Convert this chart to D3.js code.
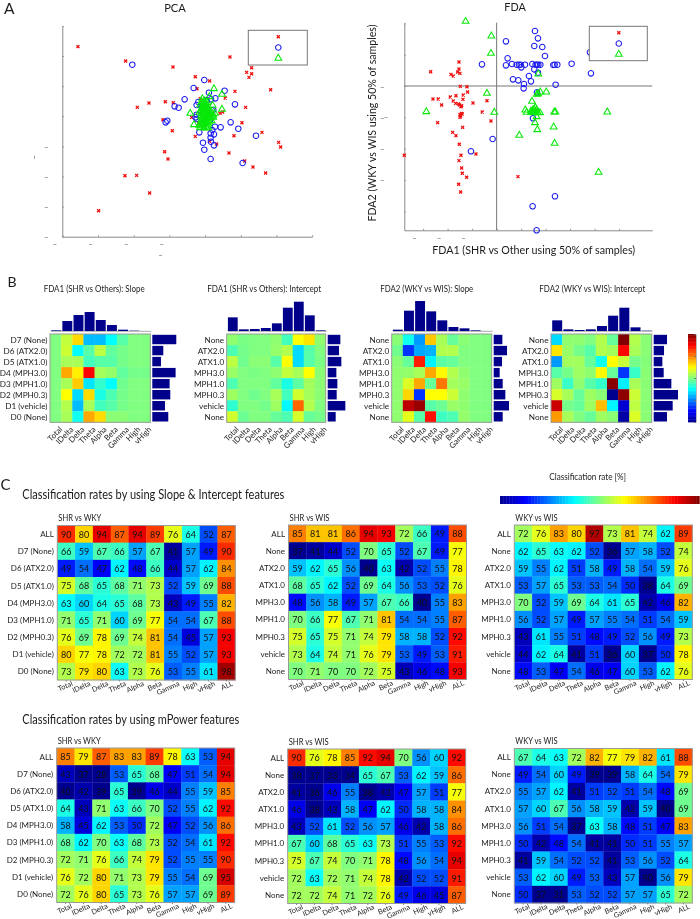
<!DOCTYPE html>
<html><head><meta charset="utf-8">
<script src="https://cdn.jsdelivr.net/npm/d3@7/dist/d3.min.js"></script>
<style>
html,body{margin:0;padding:0;background:#fff}
svg{display:block;filter:blur(.4px)}
text{font-family:Lato,"Open Sans",sans-serif;fill:#1c1c1c}
</style></head><body><svg id="chart" width="700" height="919"></svg>
<script>
// ---------- A: scatter data (scores, arbitrary units) ----------
const pcaRed=[[47,570],[190,527],[332,509],[503,539],[568,507],[553,493],[568,489],[560,478],[399,480],[442,467],[404,444],[518,436],[625,441],[489,416],[414,414],[260,401],[309,405],[333,402],[225,388],[550,388],[302,351],[388,358],[473,370],[481,374],[539,342],[409,338],[330,318],[399,301],[515,303],[599,313],[649,283],[655,269],[442,286],[463,278],[307,255],[317,233],[500,251],[547,227],[572,209],[610,191],[188,183],[223,184],[262,131],[109,78],[428,360],[438,380],[423,350]];
const pcaBlue=[[210,516],[426,470],[394,446],[440,432],[487,438],[459,415],[446,412],[367,412],[408,404],[403,395],[337,391],[349,387],[518,397],[433,410],[453,380],[448,380],[403,366],[400,358],[403,353],[315,348],[310,343],[505,343],[458,330],[475,328],[528,324],[450,320],[445,310],[411,313],[455,307],[581,303],[445,297],[446,285],[422,282],[455,274],[426,261],[445,233],[541,221],[418,390],[428,385],[438,365],[421,370],[443,350]];
const pcaGreen=[[455,444],[479,427],[441,420],[420,414],[451,394],[479,382],[384,370],[395,336],[458,370],[418,405],[423,400],[428,395],[421,390],[433,390],[425,384],[416,380],[431,380],[438,375],[423,375],[418,370],[428,370],[443,365],[433,365],[423,365],[448,360],[438,360],[428,360],[420,358],[453,358],[443,355],[433,355],[425,353],[417,350],[438,350],[428,348],[448,348],[421,344],[433,344],[415,338],[425,338],[438,338],[420,332],[431,332],[413,327],[425,327],[438,328],[453,365],[445,370],[426,407],[435,402],[431,384],[419,384],[414,395],[430,402],[437,385],[412,374],[436,355],[446,376],[416,362],[432,372],[424,393],[418,344],[441,344],[411,334],[434,326]];
const fdaRed=[[-113,72],[-198,43],[-113,51],[-117,42],[-110,38],[-137,35],[-130,30],[-109,-1],[-89,-2],[-87,-18],[-100,-27],[-122,-29],[-139,-33],[-191,-39],[-175,-39],[-101,-40],[-130,-45],[-29,-44],[-71,-51],[-123,-52],[-114,-54],[-165,-57],[-111,-57],[-105,-59],[-107,-62],[-43,-78],[-105,-82],[-110,-85],[-103,-84],[-108,-90],[-110,-94],[-17,-105],[-177,-110],[-102,-124],[-132,-139],[-122,-149],[-112,-175],[-62,-204],[-277,-208],[-107,-208],[-113,-224],[-105,-246],[-103,-262],[-90,-274],[64,-272],[-114,-295],[-108,-318]];
const fdaBlue=[[115,165],[124,143],[28,134],[113,120],[137,117],[145,90],[33,83],[280,101],[-44,65],[28,62],[46,66],[60,64],[67,64],[72,64],[74,56],[85,64],[107,66],[117,64],[121,64],[125,64],[131,64],[170,63],[182,64],[225,67],[113,50],[124,40],[283,38],[97,30],[49,20],[65,17],[103,14],[82,6],[177,4],[81,-7],[121,-19],[109,-97],[-12,-159],[-77,-196],[175,-331],[108,-361],[120,-433],[174,64]];
const fdaGreen=[[-93,194],[-16,150],[-17,98],[125,36],[-29,-22],[124,-23],[131,-18],[149,-18],[121,-25],[106,-46],[-211,-77],[-7,-79],[86,-72],[90,-79],[103,-75],[109,-72],[113,-70],[116,-64],[120,-72],[113,-79],[118,-79],[123,-79],[130,-80],[105,-78],[109,-80],[173,-78],[176,-78],[332,-78],[120,-92],[115,-110],[171,-123],[122,-131],[68,-148],[174,-172],[306,-259]];
// ---------- B: weight maps ----------
const bandsB=["Total","lDelta","Delta","Theta","Alpha","Beta","Gamma","High","vHigh"];
const drugsLong=["D7 (None)","D6 (ATX2.0)","D5 (ATX1.0)","D4 (MPH3.0)","D3 (MPH1.0)","D2 (MPH0.3)","D1 (vehicle)","D0 (None)"];
const drugsShort=["None","ATX2.0","ATX1.0","MPH3.0","MPH1.0","MPH0.3","vehicle","None"];
const slope1=[[0,.13,.32,-.38,-.38,-.25,-.08,0,0],[0,.15,-.25,-.08,.12,-.06,-.02,0,0],[0,.08,.08,-.12,-.08,-.08,-.02,0,0],[0,.42,.28,.75,.07,.04,-.06,-.02,-.02],[0,.08,.35,-.3,-.15,-.25,-.03,0,0],[0,.25,-.32,.32,-.2,-.1,-.02,0,0],[0,.1,-.38,.08,-.12,-.08,-.02,0,0],[0,.08,-.22,.42,.32,.02,.02,0,0]];
const intercept1=[[.03,-.01,0,0,.03,-.12,.24,.3,.03],[-.1,-.02,0,0,.04,.1,-.32,-.08,0],[.12,-.03,.02,.02,-.08,.25,-.32,-.08,-.01],[.05,0,-.01,0,.03,.13,.08,.25,.02],[-.1,0,0,0,-.06,-.2,-.07,.07,.02],[.06,0,-.03,0,.08,-.12,.16,.07,.02],[-.16,0,0,-.02,.06,-.26,.55,.1,0],[.16,-.04,0,0,-.05,-.1,.17,-.05,-.02]];
const slope2=[[.02,-.22,-.45,.36,.08,-.05,.02,0,0],[-.03,-.65,-.42,-.4,.1,.1,0,0,0],[.02,-.05,.7,-.27,-.07,-.05,0,0,0],[.03,.04,.08,.42,.26,.1,.03,0,0],[.03,.18,.42,-.05,.52,.07,.05,0,0],[.03,.33,-.65,.25,.25,.15,.03,0,0],[.03,.88,.95,-.08,-.04,.05,.03,0,0],[.03,.2,-.08,.72,-.13,-.1,.04,0,0]];
const intercept2=[[-.32,.03,.03,0,.1,-.05,1,.1,.02],[.3,.05,-.02,-.08,.1,.07,.75,.08,.02],[-.45,.07,.07,-.05,-.22,.25,.14,-.02,.01],[-.08,-.02,.06,.03,.26,-.05,-.65,-.14,.02],[.06,-.14,.03,-.08,-.15,.98,-.28,.08,.02],[.17,.08,-.05,.06,.02,-1,.97,.15,.02],[.85,-.02,-.05,.06,.38,-.27,-.85,.12,.02],[.45,.08,0,-.05,.06,.02,-.95,.18,.02]];
const topSlope1=[2,30,48,57,33,18,4,1,0], rightSlope1=[72,33,26,70,52,54,38,48];
const topIntercept1=[41,5,6,9,23,70,88,47,2], rightIntercept1=[38,34,41,26,29,27,53,24];
const topSlope2=[4,61,90,59,32,12,8,2,0], rightSlope2=[26,40,25,18,27,35,46,27];
const topIntercept2=[32,5,3,5,15,46,70,11,1], rightIntercept2=[40,31,26,30,53,73,57,40];
// ---------- C: classification rates ----------
const bandsC=["Total","lDelta","Delta","Theta","Alpha","Beta","Gamma","High","vHigh","ALL"];
const rowsLong=["ALL"].concat(drugsLong), rowsShort=["ALL"].concat(drugsShort);
const slopeShrWky=[[90,80,94,87,94,89,76,64,52,87],[66,59,67,66,57,67,41,57,49,90],[49,54,47,62,48,66,44,57,62,84],[75,68,65,68,71,73,52,59,69,88],[63,60,64,65,68,73,43,49,55,82],[71,65,71,60,69,77,54,54,67,88],[76,69,78,69,74,81,54,45,57,93],[80,77,78,72,72,81,55,52,57,93],[73,79,80,63,73,76,53,55,61,98]];
const slopeShrWis=[[85,81,81,86,94,93,72,66,49,88],[37,41,44,52,70,65,52,67,49,77],[59,62,65,56,40,63,42,52,55,78],[68,65,62,52,69,64,56,53,52,76],[48,56,58,49,57,67,66,40,55,83],[70,66,77,67,71,81,54,54,55,87],[75,65,75,71,74,79,58,58,52,92],[73,64,74,71,76,79,53,49,53,91],[70,71,70,70,72,75,43,46,48,93]];
const slopeWkyWis=[[72,76,83,80,97,73,81,74,62,89],[62,65,63,62,52,36,57,58,52,74],[59,55,62,51,58,49,58,54,59,76],[53,57,65,53,53,54,50,38,64,69],[70,52,59,69,64,61,65,42,46,82],[56,52,57,49,57,55,54,51,54,59],[43,61,55,51,48,49,52,56,49,73],[44,62,64,41,51,36,60,37,50,78],[48,53,47,54,46,47,60,53,62,76]];
const powerShrWky=[[85,79,87,83,83,89,78,63,53,94],[43,37,28,53,65,68,47,51,54,94],[40,42,39,65,39,46,44,55,59,85],[64,43,71,63,66,70,52,55,62,92],[58,45,62,53,50,72,47,52,56,86],[68,62,70,63,68,73,52,54,61,92],[72,71,76,66,74,79,52,55,55,90],[76,72,80,71,73,79,55,54,69,95],[72,76,80,65,73,76,57,57,69,89]];
const powerShrWis=[[90,76,78,85,92,94,70,56,60,92],[38,37,33,34,65,67,53,62,59,86],[41,36,46,55,38,42,47,57,51,77],[46,38,43,58,47,62,50,58,58,84],[43,52,61,52,56,57,46,42,58,86],[67,60,68,65,63,73,51,55,53,92],[75,67,74,70,71,78,48,56,54,94],[72,63,72,71,74,78,42,52,52,91],[72,72,74,71,72,76,49,46,45,87]];
const powerWkyWis=[[67,64,63,72,82,77,79,82,61,88],[49,54,60,49,39,39,58,64,54,79],[55,57,62,41,51,52,51,54,48,69],[57,60,67,56,58,59,42,59,40,69],[56,51,54,37,63,58,48,51,47,83],[50,42,48,54,41,41,50,51,55,57],[41,59,54,52,52,41,53,56,52,64],[53,62,60,49,53,43,57,40,56,79],[50,37,31,53,52,52,57,57,65,72]];

const svg=d3.select("#chart");
const AXC="#8a8a8a";
function jet(lo,hi){
  const t=[0,.125,.375,.625,.875,1].map(f=>lo+f*(hi-lo));
  return d3.scaleLinear().domain(t).range(["#00008f","#0000ff","#00ffff","#ffff00","#ff0000","#800000"]).clamp(true);
}
function label(x,y,s,size,opts={}){
  const t=svg.append("text").attr("x",x).attr("y",y).attr("font-size",size).attr("dominant-baseline","central").text(s);
  if(opts.anchor)t.attr("text-anchor",opts.anchor);
  if(opts.rotate!=null)t.attr("transform",`rotate(${opts.rotate} ${x} ${y})`);
  if(opts.fill)t.style("fill",opts.fill);
  if(opts.len)t.attr("textLength",opts.len).attr("lengthAdjust","spacingAndGlyphs");
  return t;
}
// ---------- scatter panels ----------
function scatter(o){
  const g=svg.append("g");
  const x=d3.scaleLinear().domain(o.xDomain).range([o.left,o.right]);
  const y=d3.scaleLinear().domain(o.yDomain).range([o.bottom,o.top]);
  const style=s=>{s.selectAll("path.domain,line").attr("stroke",AXC);s.select("path.domain").attr("stroke-width",1);s.selectAll("text").style("fill","#555").attr("font-size",8);};
  const ax=g.append("g").attr("transform",`translate(0,${o.bottom})`).call(d3.axisBottom(x).tickValues(o.xTicks).tickSize(-1.5).tickSizeOuter(0).tickFormat((d,i)=>o.xDash.includes(i)?"–":""));
  const ay=g.append("g").attr("transform",`translate(${o.left},0)`).call(d3.axisLeft(y).tickValues(o.yTicks).tickSize(-1.5).tickSizeOuter(0).tickFormat((d,i)=>o.yDash.includes(i)?"–":""));
  style(ax);style(ay);
  ax.selectAll("text").attr("dy",0).attr("y",o.xDashY).attr("dx",o.xDashDx).attr("dominant-baseline","central");
  ay.selectAll("text").attr("x",o.yDashX).attr("dy",0).attr("dominant-baseline","central").attr("text-anchor","middle");
  if(o.cross){
    g.append("line").attr("x1",x(0)).attr("x2",x(0)).attr("y1",o.top).attr("y2",o.bottom).attr("stroke","#777");
    g.append("line").attr("x1",o.left).attr("x2",o.right).attr("y1",y(0)).attr("y2",y(0)).attr("stroke","#777");
  }
  const sym={x:d3.symbol(d3.symbolX,7)(),o:d3.symbol(d3.symbolCircle,24)(),t:d3.symbol(d3.symbolTriangle,20)()};
  const put=(data,k,c,w)=>g.append("g").selectAll("path").data(data).join("path").attr("d",sym[k]).attr("fill","none").attr("stroke",c).attr("stroke-width",w).attr("transform",d=>`translate(${x(d[0])},${y(d[1])})`);
  put(o.red,"x","#f01010",1.3);put(o.blue,"o","#1c1cf0",1.05);put(o.green,"t","#08e808",1.05);
  // legend
  g.append("rect").attr("x",o.lg[0]).attr("y",o.lg[1]).attr("width",o.lg[2]).attr("height",o.lg[3]).attr("fill","#fff").attr("stroke","#777").attr("stroke-width",1);
  [["x","#f01010",1.3],["o","#1c1cf0",1.05],["t","#08e808",1.05]].forEach((m,i)=>{
    g.append("path").attr("d",sym[m[0]]).attr("fill","none").attr("stroke",m[1]).attr("stroke-width",m[2]).attr("transform",`translate(${o.lg[0]+o.lg[2]/2+.5},${o.lg[1]+6.5+i*10.7})`);
  });
}
scatter({left:62.3,right:312.3,top:26,bottom:236.7,xDomain:[0,750],yDomain:[0,632],red:pcaRed,blue:pcaBlue,green:pcaGreen,
  xTicks:d3.range(0,751,107.1),yTicks:d3.range(0,633,90.3),xDash:[0,1,2,3],yDash:[0,1,2,3],xDashY:7.5,xDashDx:-8,yDashX:-16,lg:[248.3,30.3,59,34.7]});
scatter({left:404.3,right:652.3,top:22.7,bottom:230.3,cross:true,xDomain:[-277,467],yDomain:[-433,190],red:fdaRed,blue:fdaBlue,green:fdaGreen,
  xTicks:d3.range(-220.5,440,73.5),yTicks:d3.range(-376,189,94),xDash:[0,1,2],yDash:[1,2,3,4],xDashY:7.5,xDashDx:-9,yDashX:-22,lg:[589.3,26.3,58,34.4]});
label(4,8,"A",15.5);
label(175,7.5,"PCA",12,{anchor:"middle",len:21.7});
label(515,6.5,"FDA",11,{anchor:"middle",len:21.5});
label(533.7,249.5,"FDA1 (SHR vs Other using 50% of samples)",11.4,{anchor:"middle",len:203});
label(371,123,"FDA2 (WKY vs WIS using 50% of samples)",11.4,{anchor:"middle",rotate:-90,len:197});
label(160.5,254.5,"–",8,{anchor:"middle",fill:"#555"});
label(33.7,157.5,"–",8,{anchor:"middle",rotate:-90,fill:"#555"});
label(386,117.3,"–",8,{anchor:"middle",fill:"#555"});

// ---------- shared heat map ----------
function heat(o){
  const g=svg.append("g");
  const x=d3.scaleBand().domain(d3.range(o.xLabels.length)).range([o.x0,o.x1]);
  const y=d3.scaleBand().domain(d3.range(o.yLabels.length)).range([o.y0,o.y1]);
  const rows=g.append("g").selectAll("g").data(o.values).join("g").attr("transform",(d,i)=>`translate(0,${y(i)})`);
  rows.selectAll("rect").data(d=>d).join("rect").attr("x",(d,i)=>x(i)).attr("width",x.bandwidth()+.3).attr("height",y.bandwidth()+.3).attr("fill",d=>o.color(d));
  if(o.numbers) rows.selectAll("text").data(d=>d).join("text").attr("x",(d,i)=>x(i)+x.bandwidth()/2).attr("y",y.bandwidth()/2+.3).attr("text-anchor","middle").attr("dominant-baseline","central").attr("font-size",o.numbers).style("fill","#111").text(d=>d);
  g.append("rect").attr("x",o.x0).attr("y",o.y0).attr("width",o.x1-o.x0).attr("height",o.y1-o.y0).attr("fill","none").attr("stroke","#999").attr("stroke-width",1);
  const ax=g.append("g").attr("transform",`translate(0,${o.y1})`).call(d3.axisBottom(x).tickFormat(i=>o.xLabels[i]).tickSize(o.tick).tickSizeOuter(0));
  ax.select("path.domain").remove();ax.selectAll("line").attr("stroke","#888");
  ax.selectAll("text").attr("font-size",o.xFont).attr("text-anchor","end").attr("dy",0).attr("y",0)
    .attr("transform",`translate(${o.xShift},${o.xDrop}) rotate(${o.xRot})`).attr("dominant-baseline","central");
  const ay=g.append("g").attr("transform",`translate(${o.x0},0)`).call(d3.axisLeft(y).tickFormat(i=>o.yLabels[i]).tickSize(0));
  ay.select("path.domain").remove();
  ay.selectAll("text").attr("font-size",o.yFont).attr("x",o.yGap).attr("dy",0).attr("dominant-baseline","central");
  return {x,y};
}
// ---------- B ----------
const jetB=jet(-1,1);
function panelB(o){
  label((o.x0+o.x1)/2+o.tdx,288,o.title,8.9,{anchor:"middle",len:o.tlen});
  const {x,y}=heat({x0:o.x0,x1:o.x1,y0:334,y1:422.3,values:o.values,xLabels:bandsB,yLabels:o.rows,color:jetB,tick:0,xFont:7.9,xRot:-46,xShift:5,xDrop:5.5,yFont:8.2,yGap:-2.5});
  const hT=d3.scaleLinear().domain([0,100]).range([0,33.3]);
  svg.append("line").attr("x1",o.x0+1).attr("x2",o.x1+1).attr("y1",331.3).attr("y2",331.3).attr("stroke","#aaa");
  svg.append("g").selectAll("rect").data(o.top).join("rect").attr("x",(d,i)=>x(i)+1.2).attr("width",x.bandwidth()-1.2).attr("y",d=>331-hT(d)).attr("height",d=>hT(d)).attr("fill","#00008a");
  svg.append("g").selectAll("rect").data(o.right).join("rect").attr("x",o.x1+2).attr("y",(d,i)=>y(i)+.8).attr("height",y.bandwidth()-1.6).attr("width",d=>hT(d)).attr("fill","#00008a");
}
panelB({x0:50,x1:150.3,title:"FDA1 (SHR vs Others): Slope",tdx:-6,tlen:101,values:slope1,rows:drugsLong,top:topSlope1,right:rightSlope1});
panelB({x0:226.7,x1:325.7,title:"FDA1 (SHR vs Others): Intercept",tdx:-12,tlen:114,values:intercept1,rows:drugsShort,top:topIntercept1,right:rightIntercept1});
panelB({x0:391.7,x1:491.7,title:"FDA2 (WKY vs WIS): Slope",tdx:-15,tlen:93,values:slope2,rows:drugsShort,top:topSlope2,right:rightSlope2});
panelB({x0:551,x1:651.7,title:"FDA2 (WKY vs WIS): Intercept",tdx:-9,tlen:106,values:intercept2,rows:drugsShort,top:topIntercept2,right:rightIntercept2});
label(7.5,281,"B",14);
// vertical colour bar
const stepsB=d3.range(64);
const cbB=d3.scaleBand().domain(stepsB).range([422,334]);
svg.append("g").selectAll("rect").data(stepsB).join("rect").attr("x",688).attr("width",8).attr("y",d=>cbB(d)).attr("height",cbB.bandwidth()+.4).attr("fill",d=>jetB(-1+2*(d+.5)/64));
const cbAx=d3.scaleLinear().domain([-1,1]).range([422,334]);
const cbg=svg.append("g").attr("transform","translate(696,0)").call(d3.axisRight(cbAx).tickValues([-1,-.5,0,.5,1]).tickSize(-1.5).tickSizeOuter(0).tickFormat(""));
cbg.selectAll("line").attr("stroke","#666");cbg.select("path.domain").attr("stroke","#bbb");

// ---------- C ----------
const jetC=jet(40,100);
function panelC(o){
  label(o.x0+1,o.y0-8,o.title,8.9,{len:o.tlen});
  heat({x0:o.x0,x1:o.x0+178,y0:o.y0,y1:o.y0+154.5,values:o.values,xLabels:bandsC,yLabels:o.rows,color:jetC,numbers:9,tick:1.5,xFont:7.2,xRot:-24,xShift:6,xDrop:3,yFont:8,yGap:-3.5});
}
label(0.5,484,"C",15);
label(22.3,494.5,"Classification rates by using Slope & Intercept features",12.6,{len:262});
label(22.3,719.5,"Classification rates by using mPower features",12.6,{len:217});
panelC({x0:57.3,y0:525.5,title:"SHR vs WKY",tlen:43,values:slopeShrWky,rows:rowsLong});
panelC({x0:288.5,y0:525,title:"SHR vs WIS",tlen:40,values:slopeShrWis,rows:rowsShort});
panelC({x0:514.3,y0:525,title:"WKY vs WIS",tlen:42.3,values:slopeWkyWis,rows:rowsShort});
panelC({x0:56.7,y0:748,title:"SHR vs WKY",tlen:43,values:powerShrWky,rows:rowsLong});
panelC({x0:287.7,y0:749,title:"SHR vs WIS",tlen:40,values:powerShrWis,rows:rowsShort});
panelC({x0:514.3,y0:748.5,title:"WKY vs WIS",tlen:42.3,values:powerWkyWis,rows:rowsShort});
label(587.7,476,"Classification rate [%]",8.9,{anchor:"middle",len:76.7});
const cbC=d3.scaleBand().domain(stepsB).range([500,699.3]);
svg.append("g").selectAll("rect").data(stepsB).join("rect").attr("x",d=>cbC(d)).attr("y",496).attr("height",8).attr("width",cbC.bandwidth()+.4).attr("fill",d=>jetC(40+60*(d+.5)/64));
</script></body></html>
